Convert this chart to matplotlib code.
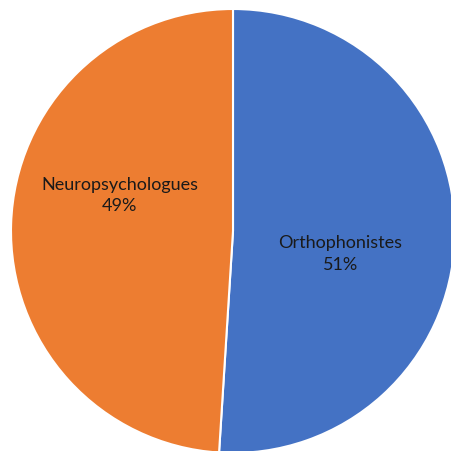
import matplotlib
matplotlib.use("Agg")
import matplotlib.pyplot as plt

labels = ["Orthophonistes", "Neuropsychologues"]
shares = [51, 49]
colors = ["#4472C4", "#ED7D31"]

# pixel geometry of the reference (452x452)
W = 452
cx, cy, r = 233, 232, 222

fig = plt.figure(figsize=(4.52, 4.52), dpi=100)
ax = fig.add_axes([0, 0, 1, 1])
ax.pie(shares, colors=colors, startangle=90, counterclock=False,
       radius=1, center=(0, 0),
       wedgeprops=dict(edgecolor="white", linewidth=1.5))
ax.set_xlim(-cx / r, (W - cx) / r)
ax.set_ylim(-(W - cy) / r, cy / r)
ax.set_aspect("equal")
ax.axis("off")

# label centres in pixels
label_pos = [(340.5, 254), (119.5, 195.5)]
for lab, val, (px, py) in zip(labels, shares, label_pos):
    ax.text((px - cx) / r, (cy - py) / r, f"{lab}\n{val}%",
            ha="center", va="center", fontsize=13, family="Lato",
            color="#1a1a1a", linespacing=1.45)

fig.savefig("out.png", dpi=100)
